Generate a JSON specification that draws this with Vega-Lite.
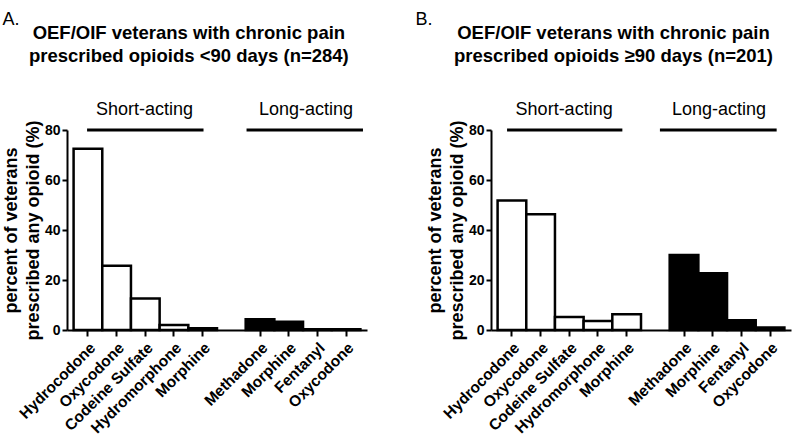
{
  "$schema": "https://vega.github.io/schema/vega-lite/v6.json",
  "background": "white",
  "padding": {"left": 2, "top": 11, "right": 5, "bottom": 5},
  "spacing": 48,
  "config": {
    "view": {"stroke": null},
    "font": "Liberation Sans",
    "axis": {"domainColor": "black", "tickColor": "black", "labelColor": "black", "titleColor": "black", "grid": false, "domainWidth": 2, "tickWidth": 2}
  },
  "hconcat": [
    {
      "width": 300,
      "height": 200,
      "title": {"text": "A.", "anchor": "start", "frame": "bounds", "fontSize": 18, "fontWeight": "normal", "dx": 0, "offset": -5},
      "data": {"values": [
        {"drug": "S|Hydrocodone", "kind": "short", "pct": 72.5},
        {"drug": "S|Oxycodone", "kind": "short", "pct": 25.7},
        {"drug": "S|Codeine Sulfate", "kind": "short", "pct": 12.6},
        {"drug": "S|Hydromorphone", "kind": "short", "pct": 2.0},
        {"drug": "S|Morphine", "kind": "short", "pct": 0.7},
        {"drug": "L|Methadone", "kind": "long", "pct": 4.3},
        {"drug": "L|Morphine", "kind": "long", "pct": 3.3},
        {"drug": "L|Fentanyl", "kind": "long", "pct": 0.3},
        {"drug": "L|Oxycodone", "kind": "long", "pct": 0.3}
      ]},
      "layer": [
        {
          "mark": {"type": "bar", "stroke": "black", "strokeWidth": 2.5},
          "encoding": {
            "x": {"field": "drug", "type": "nominal", "sort": null,
              "scale": {"domain": ["S|Hydrocodone", "S|Oxycodone", "S|Codeine Sulfate", "S|Hydromorphone", "S|Morphine", "gap", "L|Methadone", "L|Morphine", "L|Fentanyl", "L|Oxycodone"], "paddingInner": 0, "paddingOuter": 0.23},
              "axis": {"values": ["S|Hydrocodone", "S|Oxycodone", "S|Codeine Sulfate", "S|Hydromorphone", "S|Morphine", "L|Methadone", "L|Morphine", "L|Fentanyl", "L|Oxycodone"], "labelExpr": "split(datum.value, '|')[1]", "labelAngle": -45, "labelFontSize": 15.5, "labelFontWeight": "bold", "tickSize": 6, "title": null, "labelPadding": 4}},
            "y": {"field": "pct", "type": "quantitative", "scale": {"domain": [0, 80]},
              "axis": {"values": [0, 20, 40, 60, 80], "title": ["percent of veterans", "prescribed any opioid (%)"], "titleFontSize": 18, "titleFontWeight": "bold", "titleLineHeight": 22, "labelFontSize": 14, "labelFontWeight": "bold", "tickSize": 5, "labelPadding": 2, "titlePadding": 2}},
            "fill": {"field": "kind", "type": "nominal", "scale": {"domain": ["short", "long"], "range": ["white", "black"]}, "legend": null}
          }
        },
        {
          "data": {"values": [
            {"label": "Short-acting", "start": 0.47, "end": 4.53, "mid": 2.47},
            {"label": "Long-acting", "start": 6.03, "end": 10.09, "mid": 8.1}
          ]},
          "mark": {"type": "rule", "strokeWidth": 3, "color": "black"},
          "encoding": {
            "x": {"field": "start", "type": "quantitative", "scale": {"domain": [-0.23, 10.23], "nice": false, "zero": false}, "axis": null},
            "x2": {"field": "end"},
            "y": {"datum": 80}
          }
        },
        {
          "data": {"values": [
            {"label": "Short-acting", "start": 0.47, "end": 4.53, "mid": 2.47},
            {"label": "Long-acting", "start": 6.03, "end": 10.09, "mid": 8.1}
          ]},
          "mark": {"type": "text", "fontSize": 18, "baseline": "alphabetic", "dy": -15, "color": "black"},
          "encoding": {
            "x": {"field": "mid", "type": "quantitative", "scale": {"domain": [-0.23, 10.23], "nice": false, "zero": false}, "axis": null},
            "y": {"datum": 80},
            "text": {"field": "label"}
          }
        },
        {
          "data": {"values": [
            {"heading": ["OEF/OIF veterans with chronic pain", "prescribed opioids <90 days (n=284)"], "pos": 4.02}
          ]},
          "mark": {"type": "text", "fontSize": 18.5, "fontWeight": "bold", "baseline": "alphabetic", "dy": -91, "lineHeight": 23, "color": "black"},
          "encoding": {
            "x": {"field": "pos", "type": "quantitative", "scale": {"domain": [-0.23, 10.23], "nice": false, "zero": false}, "axis": null},
            "y": {"datum": 80},
            "text": {"field": "heading"}
          }
        }
      ],
      "resolve": {"scale": {"x": "independent"}}
    },
    {
      "width": 300,
      "height": 200,
      "title": {"text": "B.", "anchor": "start", "frame": "bounds", "fontSize": 18, "fontWeight": "normal", "dx": -11, "offset": -5},
      "data": {"values": [
        {"drug": "S|Hydrocodone", "kind": "short", "pct": 51.8},
        {"drug": "S|Oxycodone", "kind": "short", "pct": 46.3},
        {"drug": "S|Codeine Sulfate", "kind": "short", "pct": 5.2},
        {"drug": "S|Hydromorphone", "kind": "short", "pct": 3.6},
        {"drug": "S|Morphine", "kind": "short", "pct": 6.3},
        {"drug": "L|Methadone", "kind": "long", "pct": 30.0},
        {"drug": "L|Morphine", "kind": "long", "pct": 22.7},
        {"drug": "L|Fentanyl", "kind": "long", "pct": 3.9},
        {"drug": "L|Oxycodone", "kind": "long", "pct": 1.0}
      ]},
      "layer": [
        {
          "mark": {"type": "bar", "stroke": "black", "strokeWidth": 2.5},
          "encoding": {
            "x": {"field": "drug", "type": "nominal", "sort": null,
              "scale": {"domain": ["S|Hydrocodone", "S|Oxycodone", "S|Codeine Sulfate", "S|Hydromorphone", "S|Morphine", "gap", "L|Methadone", "L|Morphine", "L|Fentanyl", "L|Oxycodone"], "paddingInner": 0, "paddingOuter": 0.23},
              "axis": {"values": ["S|Hydrocodone", "S|Oxycodone", "S|Codeine Sulfate", "S|Hydromorphone", "S|Morphine", "L|Methadone", "L|Morphine", "L|Fentanyl", "L|Oxycodone"], "labelExpr": "split(datum.value, '|')[1]", "labelAngle": -45, "labelFontSize": 15.5, "labelFontWeight": "bold", "tickSize": 6, "title": null, "labelPadding": 4}},
            "y": {"field": "pct", "type": "quantitative", "scale": {"domain": [0, 80]},
              "axis": {"values": [0, 20, 40, 60, 80], "title": ["percent of veterans", "prescribed any opioid (%)"], "titleFontSize": 18, "titleFontWeight": "bold", "titleLineHeight": 22, "labelFontSize": 14, "labelFontWeight": "bold", "tickSize": 5, "labelPadding": 2, "titlePadding": 2}},
            "fill": {"field": "kind", "type": "nominal", "scale": {"domain": ["short", "long"], "range": ["white", "black"]}, "legend": null}
          }
        },
        {
          "data": {"values": [
            {"label": "Short-acting", "start": 0.33, "end": 4.35, "mid": 2.32},
            {"label": "Long-acting", "start": 5.66, "end": 9.73, "mid": 7.72}
          ]},
          "mark": {"type": "rule", "strokeWidth": 3, "color": "black"},
          "encoding": {
            "x": {"field": "start", "type": "quantitative", "scale": {"domain": [-0.23, 10.23], "nice": false, "zero": false}, "axis": null},
            "x2": {"field": "end"},
            "y": {"datum": 80}
          }
        },
        {
          "data": {"values": [
            {"label": "Short-acting", "start": 0.33, "end": 4.35, "mid": 2.32},
            {"label": "Long-acting", "start": 5.66, "end": 9.73, "mid": 7.72}
          ]},
          "mark": {"type": "text", "fontSize": 18, "baseline": "alphabetic", "dy": -15, "color": "black"},
          "encoding": {
            "x": {"field": "mid", "type": "quantitative", "scale": {"domain": [-0.23, 10.23], "nice": false, "zero": false}, "axis": null},
            "y": {"datum": 80},
            "text": {"field": "label"}
          }
        },
        {
          "data": {"values": [
            {"heading": ["OEF/OIF veterans with chronic pain", "prescribed opioids ≥90 days (n=201)"], "pos": 4.04}
          ]},
          "mark": {"type": "text", "fontSize": 18.5, "fontWeight": "bold", "baseline": "alphabetic", "dy": -91, "lineHeight": 23, "color": "black"},
          "encoding": {
            "x": {"field": "pos", "type": "quantitative", "scale": {"domain": [-0.23, 10.23], "nice": false, "zero": false}, "axis": null},
            "y": {"datum": 80},
            "text": {"field": "heading"}
          }
        }
      ],
      "resolve": {"scale": {"x": "independent"}}
    }
  ]
}
